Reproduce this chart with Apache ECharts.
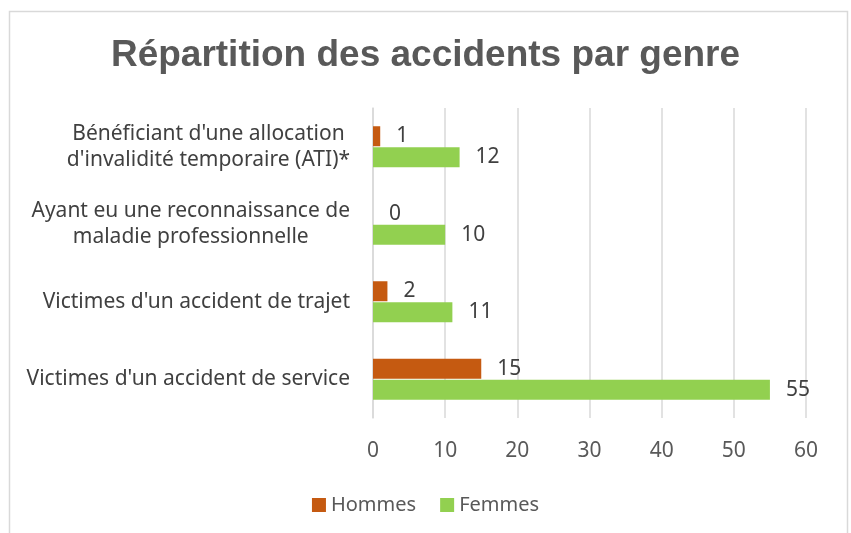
<!DOCTYPE html>
<html>
<head>
<meta charset="utf-8">
<script src="https://cdn.jsdelivr.net/npm/echarts@6/dist/echarts.min.js"></script>
<style>
html,body{margin:0;padding:0;background:#fff;}
#main{width:851px;height:533px;}
</style>
</head>
<body>
<div id="main"></div>
<script>
// categories (bottom to top, as on the y axis)
var categories = [
	"Victimes d'un accident de service",
	"Victimes d'un accident de trajet",
	"Ayant eu une reconnaissance de\nmaladie professionnelle",
	"Bénéficiant d'une allocation\nd'invalidité temporaire (ATI)*"
];
var hommes = [15, 2, 0, 1];
var femmes = [55, 11, 10, 12];
var xTicks = [0, 60, 10];

var chart = echarts.init(document.getElementById('main'));

chart.setOption({
	backgroundColor: '#fff',
	textStyle: {fontFamily: 'Noto Sans'},
	graphic: [{
		type: 'rect',
		shape: {x: 9.5, y: 11.5, width: 838, height: 540},
		style: {fill: 'none', stroke: '#d9d9d9', lineWidth: 1.5},
		silent: true
	}],
	title: {
		text: 'Répartition des accidents par genre',
		left: 'center',
		top: 32,
		textStyle: {
			fontFamily: 'Liberation Sans',
			fontSize: 37,
			fontWeight: 'bold',
			color: '#595959'
		}
	},
	legend: {
		data: ['Hommes', 'Femmes'],
		bottom: 13,
		left: 'center',
		itemWidth: 14,
		itemHeight: 14,
		itemGap: 24,
		icon: 'rect',
		textStyle: {fontSize: 20, color: '#595959', fontFamily: 'Noto Sans'}
	},
	grid: {left: 373, right: 45, top: 108, bottom: 115},
	xAxis: {
		type: 'value',
		min: xTicks[0],
		max: xTicks[1],
		interval: xTicks[2],
		axisLine: {show: false},
		axisTick: {show: false},
		splitLine: {lineStyle: {color: '#d9d9d9', width: 1.5}},
		axisLabel: {fontSize: 21, color: '#595959', margin: 23}
	},
	yAxis: {
		type: 'category',
		data: categories,
		axisLine: {lineStyle: {color: '#d9d9d9', width: 1.5}},
		axisTick: {show: false},
		axisLabel: {
			margin: 23,
			align: 'right',
			color: '#404040',
			fontSize: 21,
			lineHeight: 26,
			formatter: function (v) {
				return v.split('\n').map(function (s) { return '{c|' + s + '}'; }).join('\n');
			},
			rich: {c: {align: 'center', fontSize: 21, color: '#404040', lineHeight: 26}}
		}
	},
	series: [
		{
			name: 'Hommes',
			type: 'bar',
			data: hommes,
			barWidth: 20,
			barGap: '5%',
			itemStyle: {color: '#c55a11'},
			label: {show: true, position: 'right', distance: 16, fontSize: 21, color: '#404040'}
		},
		{
			name: 'Femmes',
			type: 'bar',
			data: femmes,
			barWidth: 20,
			barGap: '5%',
			itemStyle: {color: '#92d050'},
			label: {show: true, position: 'right', distance: 16, fontSize: 21, color: '#404040'}
		}
	]
});
</script>
</body>
</html>
